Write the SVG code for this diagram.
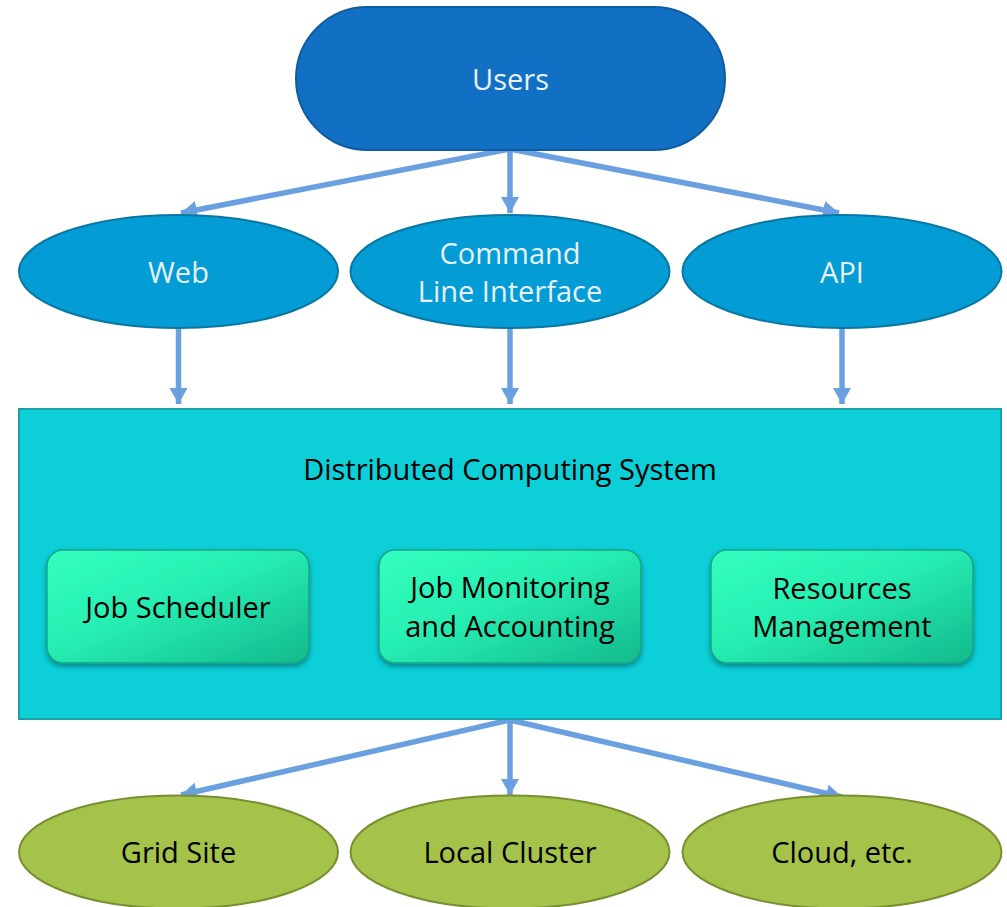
<svg xmlns="http://www.w3.org/2000/svg" width="1007" height="907" viewBox="0 0 1007 907">
  <defs>
    <style>
      .t { font-family: "Open Sans", "Liberation Sans", sans-serif; font-size: 29px; text-anchor: middle; }
      .light { fill: #E8F1FA; }
      .dark { fill: #000000; }
      .users { fill: #1170C4; stroke: #0F5D9E; stroke-width: 2; }
      .mid { fill: #039CD5; stroke: #0A77A2; stroke-width: 2; }
      .bot { fill: #A5C24A; stroke: #788F30; stroke-width: 2; }
      .sys { fill: #0CCFD8; stroke: #1C9EA6; stroke-width: 2; }
      .comp { fill: url(#compGrad); stroke: #17A486; stroke-width: 1.5; filter: url(#shadow); }
      .conn { stroke: #6A9FE0; stroke-width: 5.5; fill: none; marker-end: url(#arrow); }
    </style>
    <linearGradient id="compGrad" x1="0" y1="0" x2="1" y2="1">
      <stop offset="0" stop-color="#33FFC0"/>
      <stop offset="0.45" stop-color="#27EEB2"/>
      <stop offset="1" stop-color="#12B98C"/>
    </linearGradient>
    <filter id="shadow" x="-10%" y="-10%" width="120%" height="130%">
      <feDropShadow dx="0" dy="3" stdDeviation="2.5" flood-color="#000000" flood-opacity="0.35"/>
    </filter>
    <marker id="arrow" markerUnits="userSpaceOnUse" markerWidth="20" markerHeight="20" refX="16" refY="9" orient="auto">
      <path d="M0,0 L16,9 L0,18 Z" fill="#6A9FE0"/>
    </marker>
  </defs>

  <g id="connectors">
    <line class="conn" x1="510" y1="149" x2="181" y2="213"/>
    <line class="conn" x1="510" y1="149" x2="510" y2="213"/>
    <line class="conn" x1="510" y1="149" x2="839" y2="213"/>
    <line class="conn" x1="178.5" y1="329" x2="178.5" y2="404"/>
    <line class="conn" x1="510" y1="329" x2="510" y2="404"/>
    <line class="conn" x1="842" y1="329" x2="842" y2="404"/>
    <line class="conn" x1="510" y1="720" x2="181" y2="795"/>
    <line class="conn" x1="510" y1="720" x2="510" y2="795"/>
    <line class="conn" x1="510" y1="720" x2="842" y2="797"/>
  </g>

  <g id="users">
    <rect class="users" x="296" y="7" width="429" height="143" rx="71.5" ry="71.5"/>
    <text class="t light" x="510.5" y="90">Users</text>
  </g>

  <g id="web">
    <ellipse class="mid" cx="178.5" cy="271.5" rx="159.5" ry="56.5"/>
    <text class="t light" x="178.5" y="283">Web</text>
  </g>
  <g id="cli">
    <ellipse class="mid" cx="510" cy="271.5" rx="159.5" ry="56.5"/>
    <text class="t light" x="510" y="264">Command</text>
    <text class="t light" x="510" y="302">Line Interface</text>
  </g>
  <g id="api">
    <ellipse class="mid" cx="842" cy="271.5" rx="159.5" ry="56.5"/>
    <text class="t light" x="842" y="283">API</text>
  </g>

  <g id="system">
    <rect class="sys" x="19" y="409" width="982" height="310"/>
    <text class="t dark" x="510" y="480">Distributed Computing System</text>
  </g>

  <g id="scheduler">
    <rect class="comp" x="47" y="550" width="262" height="113" rx="16" ry="16"/>
    <text class="t dark" x="178" y="618">Job Scheduler</text>
  </g>
  <g id="monitoring">
    <rect class="comp" x="379" y="550" width="262" height="113" rx="16" ry="16"/>
    <text class="t dark" x="510" y="598">Job Monitoring</text>
    <text class="t dark" x="510" y="637">and Accounting</text>
  </g>
  <g id="resources">
    <rect class="comp" x="711" y="550" width="262" height="113" rx="16" ry="16"/>
    <text class="t dark" x="842" y="599">Resources</text>
    <text class="t dark" x="842" y="637">Management</text>
  </g>

  <g id="grid">
    <ellipse class="bot" cx="178.5" cy="852" rx="159.5" ry="56.5"/>
    <text class="t dark" x="178.5" y="863">Grid Site</text>
  </g>
  <g id="cluster">
    <ellipse class="bot" cx="510" cy="852" rx="159.5" ry="56.5"/>
    <text class="t dark" x="510" y="863">Local Cluster</text>
  </g>
  <g id="cloud">
    <ellipse class="bot" cx="842" cy="852" rx="159.5" ry="56.5"/>
    <text class="t dark" x="842" y="863">Cloud, etc.</text>
  </g>
</svg>
